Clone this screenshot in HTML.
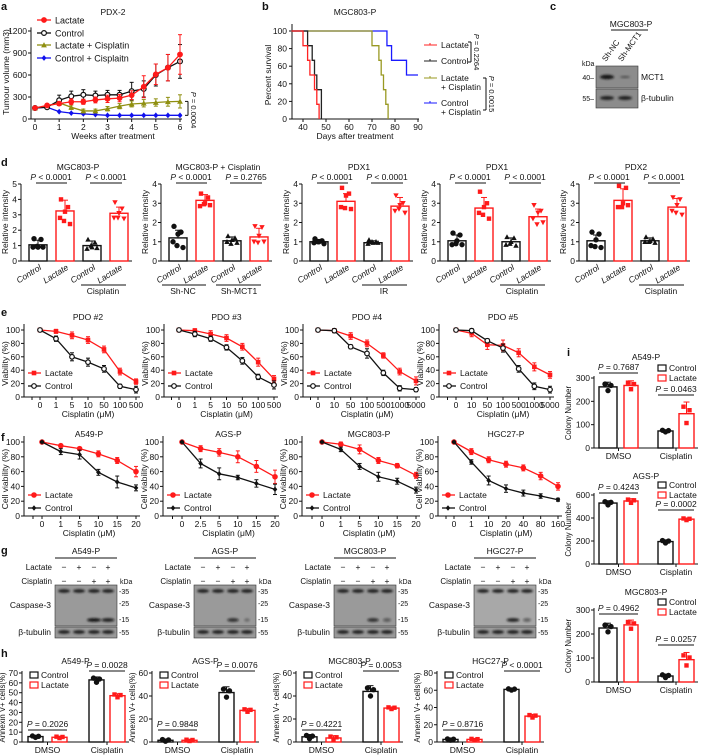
<!DOCTYPE html>
<html><head><meta charset="utf-8">
<style>
html,body{margin:0;padding:0;background:#fff;}
svg{display:block;font-family:"Liberation Sans",Arial,sans-serif;}
text{fill:#111;}
</style></head>
<body>
<svg id="fig" width="702" height="756" viewBox="0 0 702 756" xmlns="http://www.w3.org/2000/svg">
<defs>
<filter id="blur1" x="-20%" y="-50%" width="140%" height="200%"><feGaussianBlur stdDeviation="1"/></filter>
</defs>
</svg>
<script>
// ---------- Panel a data ----------
const aWeeks=[0,0.5,1,1.5,2,2.5,3,3.5,4,4.5,5,5.5,6];
const aLactate=[150,185,210,235,235,260,275,285,325,440,610,700,880];
const aControl=[150,160,255,310,330,320,330,330,380,410,600,700,785];
const aLacCis=[150,175,220,160,110,110,140,175,205,215,225,235,240];
const aConCis=[150,160,100,80,70,60,50,50,50,50,50,50,50];
const aErrLactate=[15,20,25,40,35,40,50,50,60,150,140,180,270];
const aErrControl=[15,20,70,70,70,60,60,60,120,110,150,180,230];
const aErrLacCis=[10,15,20,30,25,25,30,35,40,50,50,60,90];
const aErrConCis=[5,5,5,5,5,5,5,5,5,5,5,5,5];
const aYTicks=[0,300,600,900,1200];
const aXTicks=[0,1,2,3,4,5,6];
// ---------- Panel b data ----------
const bLactateT=[35,40,42,43,45,46,47];
const bLactateS=[100,83.3,66.7,50,33.3,16.7,0];
const bControlT=[35,42,44,45,46,48];
const bControlS=[100,83.3,66.7,50,33.3,0];
const bLacCisT=[35,70,73,74,75,76,77];
const bLacCisS=[100,83.3,66.7,50,33.3,16.7,0];
const bConCisT=[35,76.5,78.5,85,90];
const bConCisS=[100,83.3,66.7,50,50];
const bXTicks=[40,50,60,70,80,90];
const bYTicks=[0,20,40,60,80,100];
// ---------- Panel d data ----------
const dTitles=["MGC803-P","MGC803-P + Cisplatin","PDX1","PDX1","PDX2"];
const dMax=[5,4,4,4,4];
const dMeans=[[1.05,3.25,1.0,3.1],[1.2,3.15,1.05,1.25],[1.0,3.1,0.95,2.85],[1.05,2.75,1.0,2.3],[1.05,3.15,1.05,2.8]];
const dSD=[[0.3,0.7,0.3,0.4],[0.4,0.3,0.2,0.45],[0.12,0.4,0.1,0.45],[0.3,0.55,0.2,0.4],[0.3,0.6,0.15,0.45]];
const dDots=[
 [[1.45,1.4,0.9,0.9,0.9,0.95],[4.0,3.5,3.2,2.8,2.4,2.6],[1.4,1.2,0.9,0.8,0.85,1.0],[3.8,3.4,3.1,2.8,2.75,2.8]],
 [[1.8,1.5,1.4,1.0,0.7,0.8],[3.5,3.3,3.0,2.85,2.9,2.95],[1.3,1.2,1.1,1.0,0.95,0.9],[1.8,1.75,1.3,1.0,1.0,0.95]],
 [[1.15,1.05,1.0,0.95,0.9,1.0],[3.8,3.5,3.4,2.8,2.7,2.75],[1.1,1.0,0.95,0.9,0.95,1.0],[3.4,3.0,2.9,2.6,2.5,2.7]],
 [[1.45,1.35,1.05,0.85,0.85,0.9],[3.6,3.0,2.8,2.5,2.2,2.4],[1.25,1.2,1.0,0.85,0.8,0.9],[2.9,2.6,2.5,2.2,2.0,1.9]],
 [[1.5,1.4,1.1,0.8,0.7,0.75],[3.9,3.8,3.0,2.8,2.9,2.8],[1.25,1.15,1.05,1.0,0.95,1.0],[3.3,3.2,2.9,2.6,2.4,2.5]]
];
const dPvals=[["< 0.0001","< 0.0001"],["< 0.0001","= 0.2765"],["< 0.0001","< 0.0001"],["< 0.0001","< 0.0001"],["< 0.0001","< 0.0001"]];
const dGroups=[["Cisplatin"],["Sh-NC","Sh-MCT1"],["IR"],["Cisplatin"],["Cisplatin"]];
// ---------- Panel e data ----------
const eTitles=["PDO #2","PDO #3","PDO #4","PDO #5"];
const eXLabels=[["0","1","5","10","50","100","500"],["0","1","5","10","50","100","500"],["0","10","50","100","500","1000","5000"],["0","10","50","100","500","1000","5000"]];
const eLactate=[[100,98,92,85,71,38,23],[100,99,94,88,75,52,27],[100,99,91,80,62,38,24],[100,95,78,77,66,45,33]];
const eControl=[[100,87,60,52,42,16,11],[100,94,87,74,54,30,18],[100,99,75,65,36,13,11],[100,99,84,73,42,16,11]];
const eErrL=[[2,3,5,5,5,5,4],[2,3,5,5,5,6,5],[2,3,5,5,4,5,6],[2,5,7,8,6,6,5]];
const eErrC=[[2,4,6,6,5,3,5],[2,4,4,4,5,4,6],[2,3,3,7,4,4,3],[2,3,3,6,5,5,5]];
const eYTicks=[0,20,40,60,80,100];
// ---------- Panel f data ----------
const fTitles=["A549-P","AGS-P","MGC803-P","HGC27-P"];
const fXLabels=[["0","1","5","10","15","20"],["0","2.5","5","10","15","20"],["0","1","5","10","15","20"],["0","1","10","20","40","80","160"]];
const fLactate=[[100,95,91,84,75,60],[100,91,86,80,67,53],[100,97,90,75,68,55],[100,87,76,70,65,54,40]];
const fControl=[[100,87,83,59,46,38],[100,71,57,52,44,36],[100,90,67,53,47,35],[100,73,48,37,31,27,22]];
const fErrL=[[1,2,2,4,4,7],[1,4,5,8,8,9],[1,3,6,4,3,4],[1,4,4,4,4,5,5]];
const fErrC=[[1,4,6,4,8,4],[1,6,8,3,5,7],[1,3,4,6,4,4],[1,3,6,5,4,3,2]];
const fYTicks=[0,20,40,60,80,100];
// ---------- Panel g data ----------
const gTitles=["A549-P","AGS-P","MGC803-P","HGC27-P"];
const gLactate=["−","+","−","+"];
const gCisplatin=["−","−","+","+"];
const gCleaved=[[0,0,1,0.9],[0,0,0.8,0.3],[0,0,0.8,0.5],[0,0,0.9,0.5]];
// ---------- Panel h data ----------
const hTitles=["A549-P","AGS-P","MGC803-P","HGC27-P"];
const hMax=[70,60,60,80];
const hStep=[10,20,20,20];
const hMeans=[[5.5,4.8,63,47],[1.5,1.5,43,27.5],[4.5,3.5,44,29.5],[3,3,61,30]];
const hSD=[[1,1,3,2],[1,0.8,5,1.5],[2,2,5,1],[1,1,1,2]];
const hPDmso=["= 0.2026","= 0.9848","= 0.4221","= 0.8716"];
const hPCis=["= 0.0028","= 0.0076","= 0.0053","< 0.0001"];
// ---------- Panel i data ----------
const iTitles=["A549-P","AGS-P","MGC803-P"];
const iMax=[300,600,300];
const iStep=[100,200,100];
const iMeans=[[262,268,73,147],[530,548,195,390],[225,238,25,93]];
const iSD=[[20,20,5,50],[20,20,15,10],[20,20,8,30]];
const iPDmso=["= 0.7687","= 0.4243","= 0.4962"];
const iPCis=["= 0.0463","= 0.0002","= 0.0257"];

const NS='http://www.w3.org/2000/svg';
const svg=document.getElementById('fig');
function mk(tag,attrs,parent){const e=document.createElementNS(NS,tag);for(const k in attrs)e.setAttribute(k,attrs[k]);(parent||svg).appendChild(e);return e;}
function tx(p,x,y,s,size,anchor,extra){const t=mk('text',Object.assign({x:x,y:y,'font-size':size||8.5,'text-anchor':anchor||'start'},extra||{}),p);t.textContent=s;return t;}
function ptext(p,x,y,rest,size,anchor,extra){const t=mk('text',Object.assign({x:x,y:y,'font-size':size||8.5,'text-anchor':anchor||'middle'},extra||{}),p);const a=mk('tspan',{'font-style':'italic'},t);a.textContent='P';const b=mk('tspan',{},t);b.textContent=' '+rest;return t;}
function line(p,x1,y1,x2,y2,c,w){return mk('line',{x1:x1,y1:y1,x2:x2,y2:y2,stroke:c||'#111','stroke-width':w||1},p);}
function marker(p,type,x,y,c,r){r=r||2.3;
 if(type==='circle')return mk('circle',{cx:x,cy:y,r:r,fill:c,stroke:c},p);
 if(type==='open')return mk('circle',{cx:x,cy:y,r:r,fill:'#fff',stroke:c,'stroke-width':1.2},p);
 if(type==='square')return mk('rect',{x:x-r,y:y-r,width:2*r,height:2*r,fill:c},p);
 if(type==='tri')return mk('polygon',{points:`${x},${y-r-0.5} ${x-r-0.5},${y+r} ${x+r+0.5},${y+r}`,fill:c},p);
 if(type==='tridown')return mk('polygon',{points:`${x},${y+r+0.5} ${x-r-0.5},${y-r} ${x+r+0.5},${y-r}`,fill:c},p);
 if(type==='diamond')return mk('polygon',{points:`${x},${y-r-0.5} ${x+r},${y} ${x},${y+r+0.5} ${x-r},${y}`,fill:c},p);
}
function label(s,x,y){const t=tx(svg,x,y,s,11,'start',{'font-weight':'bold'});}

// ================= Panel a =================
label('a',1,10);
(function(){
 const g=mk('g',{});
 
 
 const X=v=>35+v*(145/6), Y=v=>119-v*(88/1200);
 line(g,31,Y(1250),31,119);line(g,31,119,182,119);
 aYTicks.forEach(v=>{line(g,28,Y(v),31,Y(v));tx(g,27,Y(v)+3,String(v),8.5,'end');});
 aXTicks.forEach(v=>{line(g,X(v),119,X(v),122);tx(g,X(v),130,String(v),8.5,'middle');});
 const yl=tx(g,0,0,'Tumour volume (mm3)',8.5,'middle',{transform:'translate(9,72) rotate(-90)'});
 
 const xl=tx(g,113,139,'Weeks after treatment',8.5,'middle');
 
 tx(g,113,15,'PDX-2',8.5,'middle');
 const series=[[aConCis,aErrConCis,'#1010ee','diamond','control-cisplatin'],[aLacCis,aErrLacCis,'#8f8f10','tri','lactate-cisplatin'],[aControl,aErrControl,'#111','open','control'],[aLactate,aErrLactate,'#ff1a1a','circle','lactate']];
 series.forEach(s=>{
  const sg=mk('g',{},g);
  
  
  mk('polyline',{points:aWeeks.map((w,i)=>X(w)+','+Y(s[0][i])).join(' '),fill:'none',stroke:s[2],'stroke-width':1.3},sg);
  aWeeks.forEach((w,i)=>{const x=X(w),y=Y(s[0][i]),e=s[1][i]*88/1200;line(sg,x,y-e,x,y+e,s[2],1);line(sg,x-2,y-e,x+2,y-e,s[2],1);line(sg,x-2,y+e,x+2,y+e,s[2],1);marker(sg,s[3],x,y,s[2],2.4);});
 });
 const leg=[['Lactate','#ff1a1a','circle',20],['Control','#111','open',33],['Lactate + Cisplatin','#8f8f10','tri',45],['Control + Cisplaitn','#1010ee','diamond',58]];
 leg.forEach(l=>{const lg=mk('g',{},g);line(lg,37,l[3],51,l[3],l[1],1.3);marker(lg,l[2],44,l[3],l[1],2.4);tx(lg,55,l[3]+3.5,l[0],9);});
 line(g,185,Y(240),188,Y(240));line(g,188,Y(240),188,Y(50));line(g,185,Y(50),188,Y(50));
 ptext(g,0,0,'= 0.0004',7.5,'middle',{transform:'translate(191,110) rotate(90)'});
})();

// ================= Panel b =================
label('b',262,10);
(function(){
 const g=mk('g',{});
 
 
 const X=v=>303+(v-40)*2.3, Y=v=>119-v*0.88;
 line(g,292,Y(108),292,119);line(g,292,119,419,119);
 bYTicks.forEach(v=>{line(g,289,Y(v),292,Y(v));tx(g,287,Y(v)+3,String(v),8.5,'end');});
 bXTicks.forEach(v=>{line(g,X(v),119,X(v),122);tx(g,X(v),130,String(v),8.5,'middle');});
 tx(g,0,0,'Percent survival',8.5,'middle',{transform:'translate(271,75) rotate(-90)'});
 tx(g,355,139,'Days after treatment',8.5,'middle');
 tx(g,355,15,'MGC803-P',8.5,'middle');
 function step(T,S,c,name){const d=['M'+X(T[0])+','+Y(S[0])];for(let i=1;i<T.length;i++){d.push('H'+X(T[i]));d.push('V'+Y(S[i]));}
  const p=mk('path',{d:d.join(' '),fill:'none',stroke:c,'stroke-width':1.3},g);
  }
 step(bConCisT,bConCisS,'#1a1aff','survival-control-cisplatin');
 step(bLacCisT,bLacCisS,'#999922','survival-lactate-cisplatin');
 step(bControlT,bControlS,'#222','survival-control');
 step(bLactateT,bLactateS,'#ff2222','survival-lactate');
 const leg=[['Lactate','#ff2222',45],['Control','#222',61],['Lactate','#999922',78],['Control','#1a1aff',103]];
 leg.forEach((l,i)=>{const lg=mk('g',{},g);line(lg,424,l[2],437,l[2],l[1],1);line(lg,430,l[2]-2,430,l[2],l[1],1);tx(lg,441,l[2]+3,l[0],8.5);if(i>=2)tx(lg,441,l[2]+12,'+ Cisplatin',8.5);});
 line(g,468,42,471,42);line(g,471,42,471,62);line(g,468,62,471,62);
 ptext(g,0,0,'= 0.2264',7.5,'middle',{transform:'translate(474,52) rotate(90)'});
 line(g,483,78,486,78);line(g,486,78,486,110);line(g,483,110,486,110);
 ptext(g,0,0,'= 0.0015',7.5,'middle',{transform:'translate(489,94) rotate(90)'});
})();

// ================= Panel c =================
label('c',550,10);
(function(){
 const g=mk('g',{});
 
 
 tx(g,631,27,'MGC803-P',8.5,'middle');line(g,611,30,648,30);
 tx(g,0,0,'Sh-NC',8,'start',{transform:'translate(606,62) rotate(-55)'});
 tx(g,0,0,'Sh-MCT1',8,'start',{transform:'translate(622,62) rotate(-55)'});
 tx(g,582,66,'kDa',7,'start');
 mk('rect',{x:596,y:66,width:42,height:22,fill:'#8c8c8c',stroke:'#333','stroke-width':0.6},g);
 mk('rect',{x:596,y:89,width:42,height:19,fill:'#8c8c8c',stroke:'#333','stroke-width':0.6},g);
 mk('ellipse',{cx:607,cy:77,rx:7,ry:2.2,fill:'#151515',filter:'url(#blur1)'},g);
 mk('ellipse',{cx:625,cy:77,rx:5,ry:1.2,fill:'#555',filter:'url(#blur1)'},g);
 mk('ellipse',{cx:607,cy:98,rx:7,ry:2,fill:'#222',filter:'url(#blur1)'},g);
 mk('ellipse',{cx:625,cy:98,rx:7,ry:2,fill:'#222',filter:'url(#blur1)'},g);
 tx(g,594,80,'40–',7,'end');tx(g,594,101,'55–',7,'end');
 tx(g,641,80,'MCT1',8.5);tx(g,641,101,'β-tubulin',8.5);
})();

// ================= Panel d =================
label('d',1,166);
(function(){
 const axes=[21,161,302,440,579];
 const offs=[[8,26],[35,53],[62,80],[89,107]];
 const types=[['circle','#111'],['square','#ff1a1a'],['tri','#111'],['tridown','#ff1a1a']];
 dTitles.forEach((title,k)=>{
  const g=mk('g',{});
  
  
  const ax=axes[k], y0=261, ky=77/dMax[k], Y=v=>y0-v*ky;
  line(g,ax,184,ax,y0);line(g,ax,y0,ax+111,y0);
  for(let v=0;v<=dMax[k];v++){line(g,ax-3,Y(v),ax,Y(v));tx(g,ax-4,Y(v)+3,String(v),8.5,'end');}
  tx(g,0,0,'Relative intensity',8.5,'middle',{transform:`translate(${ax-13},222) rotate(-90)`});
  tx(g,ax+57,170,title,8.5,'middle');
  ptext(g,ax+30,180,dPvals[k][0],8.5,'middle');line(g,ax+15,183,ax+46,183);
  ptext(g,ax+85,180,dPvals[k][1],8.5,'middle');line(g,ax+69,183,ax+101,183);
  offs.forEach((o,j)=>{
   const bg=mk('g',{},g);
   
   
   const c=j%2?'#ff1a1a':'#111', m=dMeans[k][j], cx=(o[0]+o[1])/2+ax;
   mk('rect',{x:ax+o[0],y:Y(m),width:o[1]-o[0],height:y0-Y(m),fill:'#fff',stroke:c,'stroke-width':1.4},bg);
   const e=Y(m+dSD[k][j]);line(bg,cx,Y(m),cx,e,c,1);line(bg,cx-3,e,cx+3,e,c,1);
   dDots[k][j].forEach((v,q)=>marker(bg,types[j][0],cx+[-4,3,0,-5,5,-1][q],Y(v),types[j][1],2.2));
   tx(bg,0,0,j%2?'Lactate':'Control',8.5,'end',{'font-style':'italic',transform:`translate(${cx+4},${y0+8}) rotate(-32)`});
  });
  const gr=dGroups[k];
  if(gr.length===1){line(g,ax+60,285,ax+105,285);tx(g,ax+82,294,gr[0],8.5,'middle');}
  else{line(g,ax+1,285,ax+45,285);tx(g,ax+22,294,gr[0],8.5,'middle');line(g,ax+55,285,ax+100,285);tx(g,ax+78,294,gr[1],8.5,'middle');}
 });
})();

// ---------- generic line chart for e/f ----------
function curveChart(g,ax,x0,dx,y0,ytop,yt,xl,series,ylab,title,ty,legY,xlY){
 const ky=(y0-ytop)/100, Y=v=>y0-v*ky, n=xl.length;
 line(g,ax,ytop-6,ax,y0);line(g,ax,y0,x0+dx*(n-1)+4,y0);
 yt.forEach(v=>{line(g,ax-3,Y(v),ax,Y(v));tx(g,ax-4,Y(v)+3,String(v),8.5,'end');});
 xl.forEach((s,i)=>{const x=x0+i*dx;line(g,x,y0,x,y0+3);tx(g,x,y0+11,s,8.5,'middle');});
 line(g,ax+(x0-ax)/2,y0,ax+(x0-ax)/2,y0+3);
 tx(g,x0+dx*(n-1)/2,y0+20,'Cisplatin (μM)',8.5,'middle');
 tx(g,0,0,ylab,8.5,'middle',{transform:`translate(${ax-16},${(y0+ytop)/2}) rotate(-90)`});
 tx(g,x0+dx*(n-1)/2,ty,title,8.5,'middle');
 series.forEach((s,si)=>{
  const sg=mk('g',{},g);
  
  
  mk('polyline',{points:s.vals.map((v,i)=>(x0+i*dx)+','+Y(v)).join(' '),fill:'none',stroke:s.c,'stroke-width':1.3},sg);
  s.vals.forEach((v,i)=>{const x=x0+i*dx,y=Y(v),e=s.err[i]*ky;line(sg,x,y-e,x,y+e,s.c,1);line(sg,x-2,y-e,x+2,y-e,s.c,1);line(sg,x-2,y+e,x+2,y+e,s.c,1);marker(sg,s.m,x,y,s.c,2.3);});
  const lg=mk('g',{},g);
  
  
  const ly=legY+si*13;line(lg,ax+4,ly,ax+17,ly,s.c,1.3);marker(lg,s.m,ax+10,ly,s.c,2.3);tx(lg,ax+21,ly+3,s.label,8.5);
 });
}

// ================= Panel e =================
label('e',1,316);
(function(){
 const axes=[24,164,303,439], x0s=[40,179,318,456], ends=[136,274,416,550];
 eTitles.forEach((t,k)=>{
  const g=mk('g',{});
  
  
  curveChart(g,axes[k],x0s[k],(ends[k]-x0s[k])/6,397,330,eYTicks,eXLabels[k],
   [{vals:eLactate[k],err:eErrL[k],c:'#ff1a1a',m:'square',label:'Lactate',name:'lactate'},{vals:eControl[k],err:eErrC[k],c:'#111',m:'open',label:'Control',name:'control'}],
   'Viability (%)',t,320,373);
 });
})();

// ================= Panel f =================
label('f',1,441);
(function(){
 const axes=[24,163,302,438], x0s=[42,182,322,454], ends=[136,275,416,558];
 fTitles.forEach((t,k)=>{
  const g=mk('g',{});
  
  
  const n=fXLabels[k].length;
  curveChart(g,axes[k],x0s[k],(ends[k]-x0s[k])/(n-1),516,442,fYTicks,fXLabels[k],
   [{vals:fLactate[k],err:fErrL[k],c:'#ff1a1a',m:'circle',label:'Lactate',name:'lactate'},{vals:fControl[k],err:fErrC[k],c:'#111',m:'diamond',label:'Control',name:'control'}],
   'Cell viability (%)',t,437,495);
 });
})();

// ================= Panel g =================
label('g',1,554);
(function(){
 const bx=[55,194,334,474], w=62, lanes=[9,24,39,53];
 gTitles.forEach((t,k)=>{
  const g=mk('g',{});
  
  
  const x=bx[k];
  tx(g,x+w/2,554,t,8.5,'middle');line(g,x,558,x+w,558);
  tx(g,x-3,570,'Lactate',8,'end');tx(g,x-3,584,'Cisplatin',8,'end');
  lanes.forEach((l,i)=>{tx(g,x+l,570,gLactate[i],8.5,'middle');tx(g,x+l,584,gCisplatin[i],8.5,'middle');});
  tx(g,x+w+3,584,'kDa',7);
  mk('rect',{x:x,y:585,width:w,height:41,fill:k===3?'#a8a8a8':'#9a9a9a',stroke:'#333','stroke-width':0.6},g);
  mk('rect',{x:x,y:627,width:w,height:11,fill:'#9a9a9a',stroke:'#333','stroke-width':0.6},g);
  lanes.forEach((l,i)=>{
   mk('ellipse',{cx:x+l,cy:591,rx:6,ry:1.8,fill:'#1a1a1a',filter:'url(#blur1)'},g);
   if(gCleaved[k][i]>0)mk('ellipse',{cx:x+l,cy:620,rx:6*gCleaved[k][i]+1,ry:1.8,fill:'#111','fill-opacity':gCleaved[k][i],filter:'url(#blur1)'},g);
   mk('ellipse',{cx:x+l,cy:632,rx:6,ry:1.8,fill:'#1a1a1a',filter:'url(#blur1)'},g);
  });
  tx(g,x-4,608,'Caspase-3',8.5,'end');tx(g,x-4,635,'β-tubulin',8.5,'end');
  tx(g,x+w+2,594,'-35',7);tx(g,x+w+2,606,'-25',7);tx(g,x+w+2,622,'-15',7);tx(g,x+w+2,635,'-55',7);
 });
})();

// ---------- grouped bars for h / i ----------
function groupBars(g,ax,y0,ytop,max,step,means,sd,offs,pD,pC,pDy,pCy,ylab,title,ty,legX,legY,labY,ylOff){
 const ky=(y0-ytop)/max, Y=v=>y0-v*ky;
 line(g,ax,ytop-2,ax,y0);line(g,ax,y0,offs[3][1]+ax+4,y0);
 for(let v=0;v<=max;v+=step){line(g,ax-3,Y(v),ax,Y(v));tx(g,ax-4,Y(v)+3,String(v),8.5,'end');}
 tx(g,0,0,ylab,7.8,'middle',{transform:`translate(${ax-ylOff},${(y0+ytop)/2}) rotate(-90)`});
 tx(g,ax+(offs[3][1])/2+2,ty,title,8.5,'middle');
 const dmx=ax+(offs[0][0]+offs[1][1])/2, cmx=ax+(offs[2][0]+offs[3][1])/2;
 line(g,dmx,y0,dmx,y0+3);line(g,cmx,y0,cmx,y0+3);
 tx(g,dmx,labY,'DMSO',8.5,'middle');tx(g,cmx,labY,'Cisplatin',8.5,'middle');
 offs.forEach((o,j)=>{
  const bg=mk('g',{},g);
  
  
  const c=j%2?'#ff1a1a':'#111', m=means[j], cx=ax+(o[0]+o[1])/2;
  mk('rect',{x:ax+o[0],y:Y(m),width:o[1]-o[0],height:y0-Y(m),fill:'#fff',stroke:c,'stroke-width':1.4},bg);
  const e=Y(m+sd[j]);line(bg,cx,Y(m),cx,e,c,1);line(bg,cx-3,e,cx+3,e,c,1);
  [[-3,0.6],[3,0.3],[0,-0.8]].forEach(d=>marker(bg,j%2?'square':'circle',cx+d[0],Y(m+d[1]*sd[j]),c,2.2));
 });
 ptext(g,dmx,pDy,pD,8.5,'middle');line(g,ax+offs[0][0],pDy+3,ax+offs[1][1],pDy+3);
 ptext(g,cmx,pCy,pC,8.5,'middle');line(g,ax+offs[2][0],pCy+3,ax+offs[3][1],pCy+3);
 [['Control','#111'],['Lactate','#ff1a1a']].forEach((l,i)=>{
  const lg=mk('g',{},g);
  
  
  mk('rect',{x:legX,y:legY+i*10-4,width:8,height:6,fill:'#fff',stroke:l[1],'stroke-width':1.2},lg);
  tx(lg,legX+11,legY+i*10+2,l[0],8.5);
 });
}

// ================= Panel h =================
label('h',1,657);
(function(){
 const axes=[22,152,296,437];
 const offs=[[6,21],[30,45],[67,82],[88,103]];
 hTitles.forEach((t,k)=>{
  const g=mk('g',{});
  
  
  groupBars(g,axes[k],742,673,hMax[k],hStep[k],hMeans[k],hSD[k],offs,hPDmso[k],hPCis[k],727,668,'Annexin V+ cells(%)',t,664,axes[k]+8,676,753,17);
 });
})();

// ================= Panel i =================
label('i',567,356);
(function(){
 const offs=[[5,23],[30,44],[64,79],[85,100]];
 const y0s=[448,564,682], tops=[378,495,610], ts=[360,479,595], legY=[369,486,603], pDy=[370,490,611], pCy=[392,507,642], labY=[459,575,693];
 iTitles.forEach((t,k)=>{
  const g=mk('g',{});
  
  
  groupBars(g,594,y0s[k],tops[k],iMax[k],iStep[k],iMeans[k],iSD[k],offs,iPDmso[k],iPCis[k],pDy[k],pCy[k],'Colony Number',t,ts[k],658,legY[k],labY[k],23);
 });
})();
</script>
</body></html>
